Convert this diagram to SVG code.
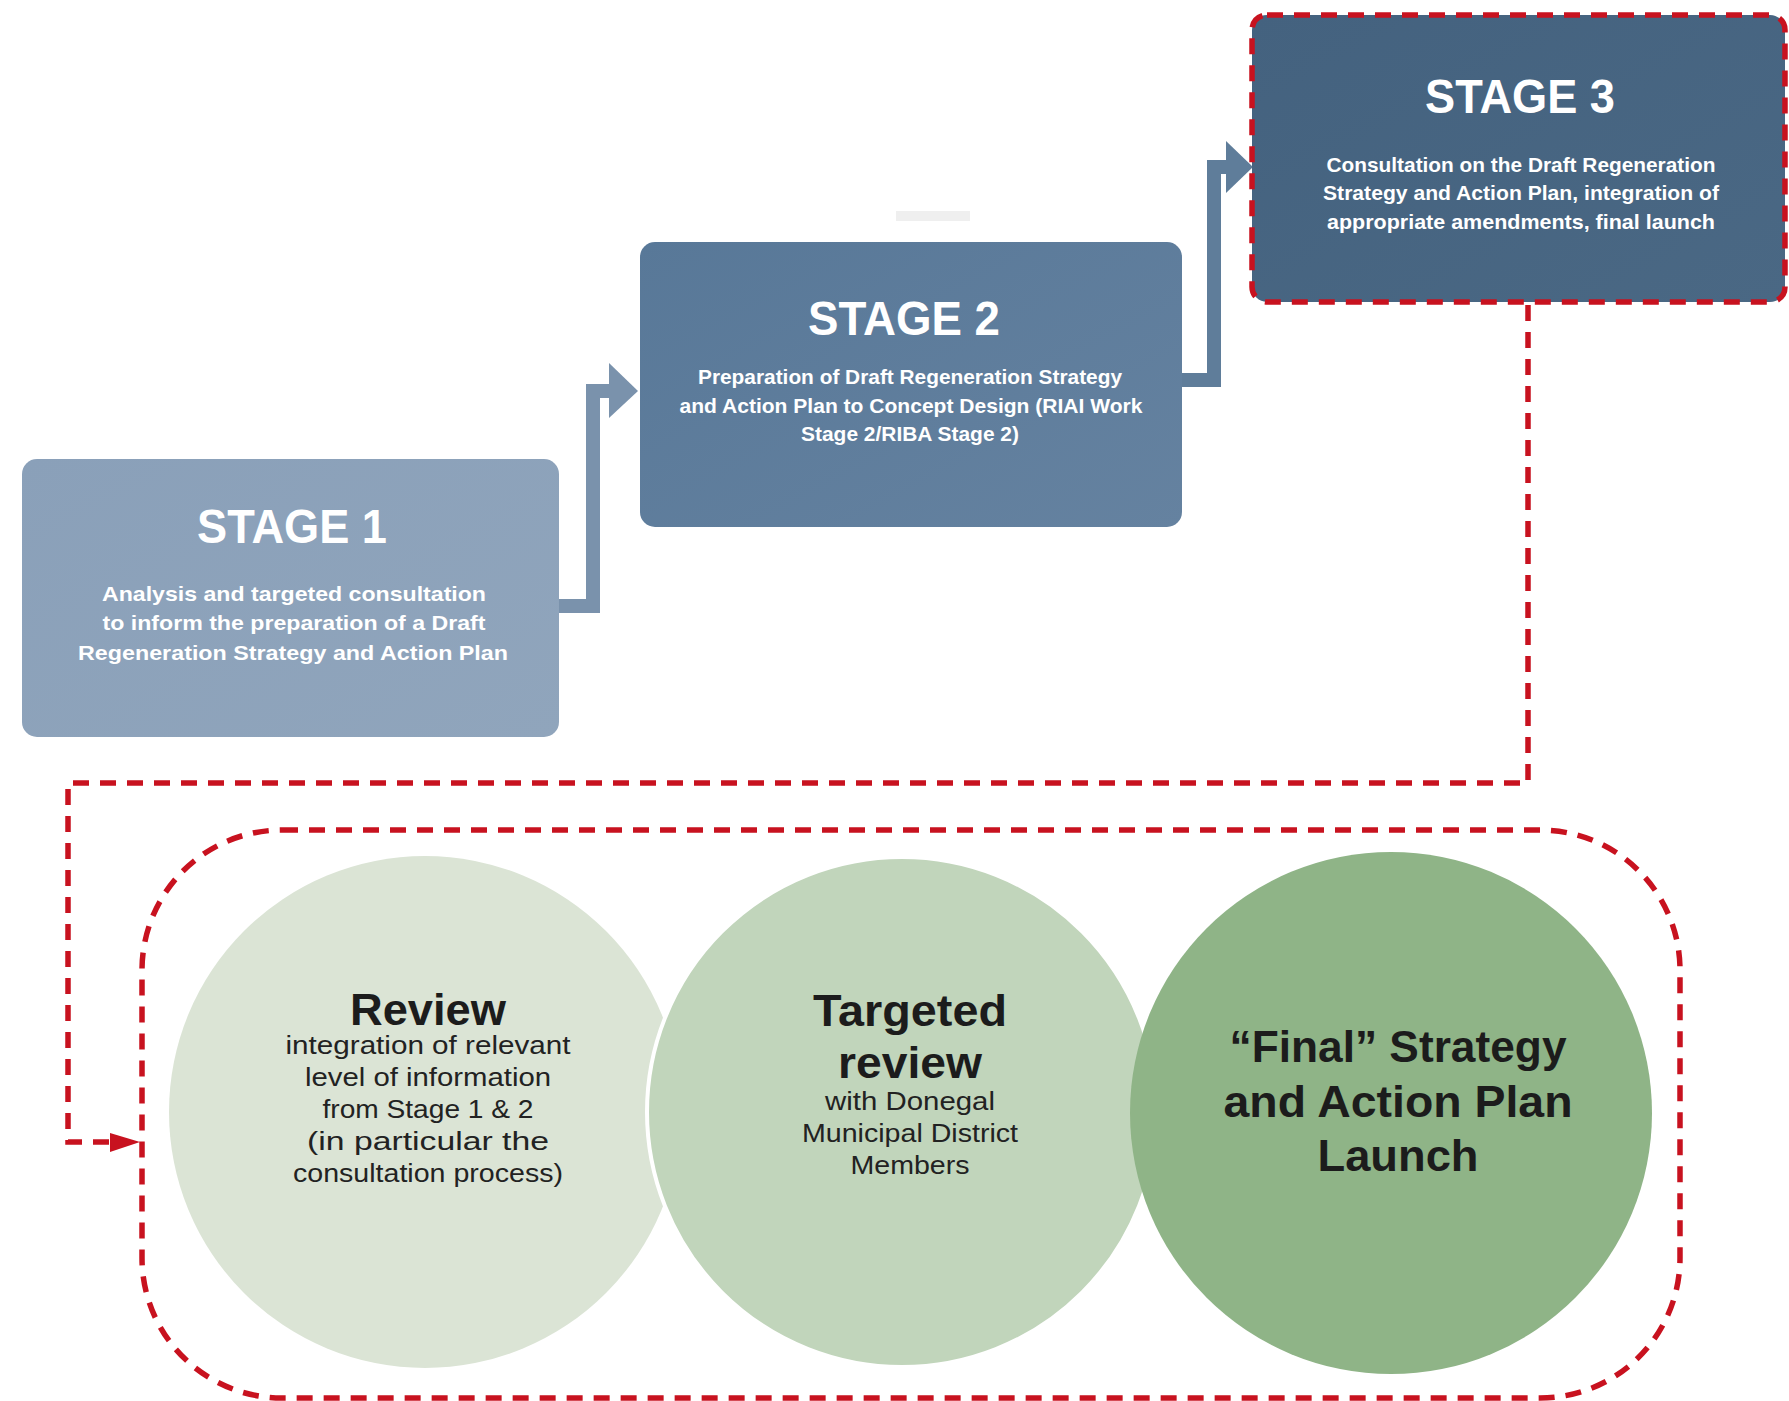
<svg xmlns="http://www.w3.org/2000/svg" width="1789" height="1401" viewBox="0 0 1789 1401">
  <style>
    .title { font-family: "Liberation Sans", Arial, sans-serif; font-weight: bold; font-size: 49px; fill: #ffffff; text-anchor: middle; }
    .body { font-family: "Liberation Sans", Arial, sans-serif; font-weight: bold; font-size: 21px; fill: #ffffff; text-anchor: middle; }
    .head { font-family: "Liberation Sans", Arial, sans-serif; font-weight: bold; font-size: 45px; fill: #1c1c1c; text-anchor: middle; }
    .sub { font-family: "Liberation Sans", Arial, sans-serif; font-size: 25px; fill: #222222; text-anchor: middle; }
    .red { fill: none; stroke: #c8121f; stroke-width: 5.5; stroke-dasharray: 16 11; }
    .bar1 { fill: none; stroke: #7a92ac; stroke-width: 14; stroke-linejoin: miter; }
    .bar2 { fill: none; stroke: #5f7d9a; stroke-width: 14; stroke-linejoin: miter; }
  </style>
  <defs>
    <linearGradient id="g1" x1="0" y1="0" x2="1" y2="1">
      <stop offset="0" stop-color="#8aa0b9"/>
      <stop offset="1" stop-color="#90a5bc"/>
    </linearGradient>
    <linearGradient id="g2" x1="0" y1="0" x2="1" y2="1">
      <stop offset="0" stop-color="#587898"/>
      <stop offset="1" stop-color="#6582a0"/>
    </linearGradient>
    <linearGradient id="g3" x1="0" y1="0" x2="1" y2="1">
      <stop offset="0" stop-color="#44627f"/>
      <stop offset="1" stop-color="#4a6884"/>
    </linearGradient>
  </defs>

  <rect width="1789" height="1401" fill="#ffffff"/>
  <rect x="896" y="211" width="74" height="10" fill="#efefef"/>

  <!-- outer rounded dashed frame around the review circles -->
  <rect id="review-frame" class="red" x="142" y="830" width="1538" height="568" rx="140" ry="140"/>

  <!-- stage connectors -->
  <g id="connectors">
    <path class="bar1" d="M558,606 H593 V391 H612"/>
    <polygon points="609,363 638,391 609,418" fill="#7a92ac"/>
    <path class="bar2" d="M1182,380 H1214 V167 H1229"/>
    <polygon points="1226,141 1253,167 1226,193" fill="#5f7d9a"/>
    <path class="red" d="M1528,305 V783 H68 V1142 H112"/>
    <polygon points="110,1133 140,1142 110,1152" fill="#c8121f"/>
  </g>

  <g id="stage1">
    <rect x="22" y="459" width="537" height="278" rx="15" fill="url(#g1)"/>
    <text class="title" x="292" y="543" textLength="190" lengthAdjust="spacingAndGlyphs">STAGE 1</text>
    <text class="body" x="294" y="601" textLength="384" lengthAdjust="spacingAndGlyphs">Analysis and targeted consultation</text>
    <text class="body" x="294" y="630" textLength="383" lengthAdjust="spacingAndGlyphs">to inform the preparation of a Draft</text>
    <text class="body" x="293" y="660" textLength="430" lengthAdjust="spacingAndGlyphs">Regeneration Strategy and Action Plan</text>
  </g>

  <g id="stage2">
    <rect x="640" y="242" width="542" height="285" rx="15" fill="url(#g2)"/>
    <text class="title" x="904" y="335" textLength="192" lengthAdjust="spacingAndGlyphs">STAGE 2</text>
    <text class="body" x="910" y="384" textLength="424" lengthAdjust="spacingAndGlyphs">Preparation of Draft Regeneration Strategy</text>
    <text class="body" x="911" y="413" textLength="463" lengthAdjust="spacingAndGlyphs">and Action Plan to Concept Design (RIAI Work</text>
    <text class="body" x="910" y="441" textLength="218" lengthAdjust="spacingAndGlyphs">Stage 2/RIBA Stage 2)</text>
  </g>

  <g id="stage3">
    <rect x="1252" y="15" width="533" height="287" rx="15" fill="url(#g3)"/>
    <rect class="red" x="1252" y="15" width="533" height="287" rx="15"/>
    <text class="title" x="1520" y="113" textLength="190" lengthAdjust="spacingAndGlyphs">STAGE 3</text>
    <text class="body" x="1521" y="172" textLength="389" lengthAdjust="spacingAndGlyphs">Consultation on the Draft Regeneration</text>
    <text class="body" x="1521" y="200" textLength="396" lengthAdjust="spacingAndGlyphs">Strategy and Action Plan, integration of</text>
    <text class="body" x="1521" y="229" textLength="388" lengthAdjust="spacingAndGlyphs">appropriate amendments, final launch</text>
  </g>

  <g id="review">
    <circle cx="425" cy="1112" r="256" fill="#dbe4d5"/>
    <text class="head" x="428" y="1025" textLength="156" lengthAdjust="spacingAndGlyphs">Review</text>
    <text class="sub" x="428" y="1054" textLength="285" lengthAdjust="spacingAndGlyphs">integration of relevant</text>
    <text class="sub" x="428" y="1086" textLength="246" lengthAdjust="spacingAndGlyphs">level of information</text>
    <text class="sub" x="428" y="1118" textLength="211" lengthAdjust="spacingAndGlyphs">from Stage 1 &amp; 2</text>
    <text class="sub" x="428" y="1150" textLength="242" lengthAdjust="spacingAndGlyphs">(in particular the</text>
    <text class="sub" x="428" y="1182" textLength="270" lengthAdjust="spacingAndGlyphs">consultation process)</text>
  </g>

  <g id="targeted-review">
    <circle cx="902" cy="1112" r="255" fill="#c1d5bb" stroke="#ffffff" stroke-width="4"/>
    <text class="head" x="910" y="1026" textLength="194" lengthAdjust="spacingAndGlyphs">Targeted</text>
    <text class="head" x="910" y="1078" textLength="144" lengthAdjust="spacingAndGlyphs">review</text>
    <text class="sub" x="910" y="1110" textLength="170" lengthAdjust="spacingAndGlyphs">with Donegal</text>
    <text class="sub" x="910" y="1142" textLength="216" lengthAdjust="spacingAndGlyphs">Municipal District</text>
    <text class="sub" x="910" y="1174" textLength="119" lengthAdjust="spacingAndGlyphs">Members</text>
  </g>

  <g id="final-launch">
    <circle cx="1391" cy="1113" r="261" fill="#8fb487"/>
    <text class="head" x="1398" y="1062" textLength="337" lengthAdjust="spacingAndGlyphs">“Final” Strategy</text>
    <text class="head" x="1398" y="1117" textLength="349" lengthAdjust="spacingAndGlyphs">and Action Plan</text>
    <text class="head" x="1398" y="1171" textLength="161" lengthAdjust="spacingAndGlyphs">Launch</text>
  </g>
</svg>
